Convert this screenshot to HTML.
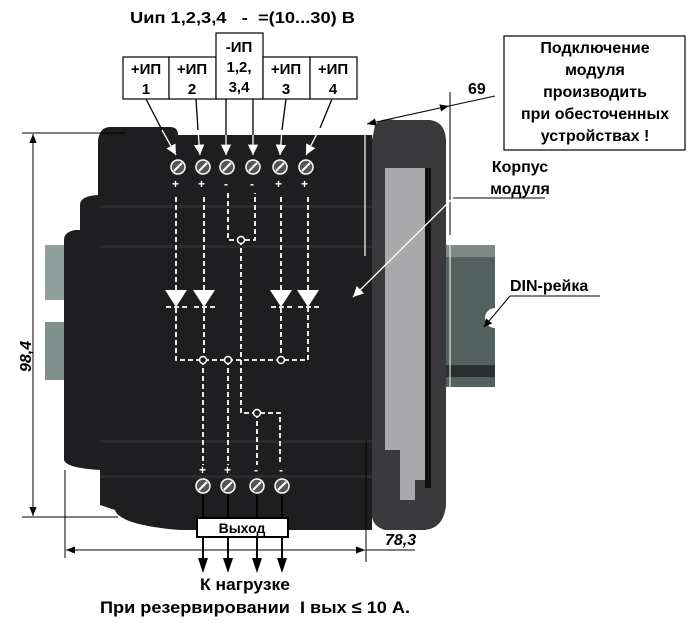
<!DOCTYPE html>
<html><head><meta charset="utf-8"><style>
body{margin:0;background:#fff;width:698px;height:642px;overflow:hidden}
svg{display:block}
text{font-family:"Liberation Sans","Noto Sans CJK SC",sans-serif;font-weight:bold;fill:#000}
</style></head><body>
<svg width="698" height="642" viewBox="0 0 698 642" xmlns="http://www.w3.org/2000/svg">
<defs>
<marker id="ab" viewBox="0 0 10 10" refX="10" refY="5" markerWidth="9" markerHeight="9" orient="auto-start-reverse"><path d="M0,1 L10,5 L0,9 z" fill="#000"/></marker>
<marker id="aw" viewBox="0 0 10 10" refX="10" refY="5" markerWidth="8" markerHeight="8" orient="auto"><path d="M0,0 L10,5 L0,10 z" fill="#fff"/></marker>
<marker id="abk" viewBox="0 0 10 10" refX="10" refY="5" markerWidth="8" markerHeight="8" orient="auto"><path d="M0,0 L10,5 L0,10 z" fill="#000"/></marker>
</defs>
<!-- DIN rail -->
<rect x="440" y="245" width="55" height="142" fill="#52605e"/>
<rect x="440" y="245" width="55" height="12" fill="#7d8a88"/>
<rect x="440" y="365" width="55" height="12" fill="#2a302f"/>
<circle cx="495" cy="318" r="10" fill="#fff"/>
<rect x="45" y="245" width="20" height="55" fill="#8fa09c"/>
<rect x="45" y="322" width="20" height="58" fill="#7f908c"/>
<!-- main body -->
<path d="M110,127 L170,127 Q178,127 178,135 L372,135 L372,530 L180,530 Q120,525 115,510 L100,505 L100,470 Q66,468 64,460 L64,240 Q64,232 75,230 L80,230 L80,205 Q80,196 98,195 L98,140 Q100,127 110,127 Z" fill="#1e1e21"/>
<rect x="100" y="205" width="272" height="3" fill="#2b2b2e"/>
<rect x="100" y="245" width="272" height="3" fill="#2b2b2e"/>
<rect x="100" y="440" width="272" height="3" fill="#2b2b2e"/>
<rect x="100" y="475" width="272" height="3" fill="#2b2b2e"/>
<!-- right cap -->
<path d="M375,125 Q380,118 395,120 L430,120 Q445,122 446,140 L446,505 Q444,528 425,530 L385,530 Q372,526 372,515 L372,140 Z" fill="#3a3a3d"/>
<path d="M385,168 L425,168 L425,480 L415,480 L415,500 L400,500 L400,450 L385,450 Z" fill="#a9a9ab"/>
<rect x="425" y="168" width="6" height="320" fill="#111"/>
<!-- dimension lines -->
<line x1="22" y1="133" x2="125" y2="133" stroke="#000"/>
<line x1="22" y1="517" x2="118" y2="517" stroke="#000"/>
<line x1="33" y1="134" x2="33" y2="516" stroke="#000" marker-start="url(#ab)" marker-end="url(#ab)"/>
<text x="0" y="0" font-size="16" font-style="italic" transform="translate(31,372) rotate(-90)">98,4</text>
<line x1="65" y1="470" x2="65" y2="558" stroke="#000"/>
<line x1="366" y1="440" x2="366" y2="562" stroke="#000"/>
<line x1="66" y1="550" x2="365" y2="550" stroke="#000" marker-start="url(#ab)" marker-end="url(#ab)"/>
<line x1="366" y1="550" x2="415" y2="550" stroke="#000"/>
<text x="385" y="545" font-size="16" font-style="italic">78,3</text>
<line x1="365" y1="114" x2="365" y2="256" stroke="#fff" stroke-width="1.2"/>
<line x1="450" y1="92" x2="450" y2="235" stroke="#000"/>
<line x1="450" y1="235" x2="450" y2="440" stroke="#fff"/>
<line x1="367" y1="124" x2="449" y2="106" stroke="#000" marker-start="url(#ab)" marker-end="url(#ab)"/>
<line x1="449" y1="106" x2="495" y2="96" stroke="#000"/>
<text x="468" y="94" font-size="16">69</text>
<!-- right box -->
<rect x="504" y="36" width="181" height="114" fill="#fff" stroke="#000" stroke-width="1.2"/>
<text font-size="16" text-anchor="middle"><tspan x="595" y="53">Подключение</tspan><tspan x="595" y="75">модуля</tspan><tspan x="595" y="97">производить</tspan><tspan x="595" y="119">при обесточенных</tspan><tspan x="595" y="141">устройствах !</tspan></text>
<text font-size="16" text-anchor="middle"><tspan x="520" y="172">Корпус</tspan><tspan x="520" y="194">модуля</tspan></text>
<line x1="453" y1="198" x2="545" y2="198" stroke="#000"/>
<line x1="453" y1="198" x2="353" y2="297" stroke="#fff" stroke-width="1.3" marker-end="url(#aw)"/>
<text x="510" y="291" font-size="16">DIN-рейка</text>
<line x1="510" y1="296" x2="600" y2="296" stroke="#000"/>
<line x1="510" y1="296" x2="484" y2="327" stroke="#000" marker-end="url(#abk)"/>
<!-- title & top boxes -->
<text x="130" y="23" font-size="16" textLength="225" lengthAdjust="spacingAndGlyphs">Uип 1,2,3,4 &#160; - &#160;=(10...30) В</text>
<g fill="#fff" stroke="#000" stroke-width="1.2">
<rect x="123" y="57" width="46" height="42"/><rect x="169" y="57" width="47" height="42"/>
<rect x="216" y="33" width="47" height="66"/><rect x="263" y="57" width="47" height="42"/><rect x="310" y="57" width="47" height="42"/>
</g>
<text font-size="15" text-anchor="middle"><tspan x="146" y="74">+ИП</tspan><tspan x="146" y="94">1</tspan><tspan x="192" y="74">+ИП</tspan><tspan x="192" y="94">2</tspan><tspan x="239" y="52">-ИП</tspan><tspan x="239" y="72">1,2,</tspan><tspan x="239" y="92">3,4</tspan><tspan x="286" y="74">+ИП</tspan><tspan x="286" y="94">3</tspan><tspan x="333" y="74">+ИП</tspan><tspan x="333" y="94">4</tspan></text>
<!-- leader arrows to terminals -->
<g stroke="#000" stroke-width="1.3">
<line x1="146" y1="99" x2="162" y2="130"/><line x1="196" y1="99" x2="198" y2="130"/>
<line x1="226" y1="99" x2="226" y2="135"/><line x1="253" y1="99" x2="253" y2="135"/>
<line x1="286" y1="99" x2="282" y2="130"/><line x1="332" y1="99" x2="320" y2="128"/>
</g>
<g stroke="#fff" stroke-width="1.3" marker-end="url(#aw)">
<line x1="162" y1="130" x2="176" y2="155"/><line x1="198" y1="130" x2="200" y2="155"/>
<line x1="226" y1="135" x2="226" y2="155"/><line x1="253" y1="135" x2="253" y2="155"/>
<line x1="282" y1="130" x2="280" y2="155"/><line x1="320" y1="128" x2="306" y2="155"/>
</g>
<!-- terminals -->
<g stroke="#fff" stroke-width="1.5" fill="#555">
<circle cx="178" cy="167" r="7"/><circle cx="203" cy="167" r="7"/><circle cx="227" cy="167" r="7"/><circle cx="253" cy="167" r="7"/><circle cx="280" cy="167" r="7"/><circle cx="306" cy="167" r="7"/>
<circle cx="203" cy="486" r="7"/><circle cx="228" cy="486" r="7"/><circle cx="257" cy="486" r="7"/><circle cx="282" cy="486" r="7"/>
</g>
<g stroke="#fff" stroke-width="2">
<line x1="174" y1="171" x2="182" y2="163"/><line x1="199" y1="171" x2="207" y2="163"/><line x1="223" y1="171" x2="231" y2="163"/><line x1="249" y1="171" x2="257" y2="163"/><line x1="276" y1="171" x2="284" y2="163"/><line x1="302" y1="171" x2="310" y2="163"/>
<line x1="199" y1="490" x2="207" y2="482"/><line x1="224" y1="490" x2="232" y2="482"/><line x1="253" y1="490" x2="261" y2="482"/><line x1="278" y1="490" x2="286" y2="482"/>
</g>
<g font-size="12"><text x="172" y="188" style="fill:#fff">+</text><text x="198" y="188" style="fill:#fff">+</text><text x="224" y="188" style="fill:#fff">-</text><text x="250" y="188" style="fill:#fff">-</text><text x="275" y="188" style="fill:#fff">+</text><text x="301" y="188" style="fill:#fff">+</text>
<text x="199" y="474" style="fill:#fff">+</text><text x="224" y="474" style="fill:#fff">+</text><text x="254" y="474" style="fill:#fff">-</text><text x="279" y="474" style="fill:#fff">-</text></g>
<!-- dashed circuit -->
<g stroke="#fff" stroke-width="1.8" stroke-dasharray="5,3" fill="none">
<path d="M176,197 V290 M204,197 V290 M281,197 V290 M308,197 V290"/>
<path d="M228,193 V240 H255 V193"/>
<path d="M241,240 V413 H280 V465 M257,413 V465"/>
<path d="M176,308 V360 H308 V308 M204,308 V360 M281,308 V360"/>
<path d="M203,360 V465 M228,360 V465"/>
<path d="M166,307 h22 M194,307 h22 M271,307 h22 M298,307 h22"/>
</g>
<g fill="#fff">
<path d="M165,290 h22 l-11,17 z"/><path d="M193,290 h22 l-11,17 z"/><path d="M270,290 h22 l-11,17 z"/><path d="M297,290 h22 l-11,17 z"/>
</g>
<g fill="#1c1c1e" stroke="#fff" stroke-width="1.5">
<circle cx="241" cy="240" r="3.5"/><circle cx="203" cy="360" r="3.5"/><circle cx="228" cy="360" r="3.5"/><circle cx="281" cy="360" r="3.5"/><circle cx="257" cy="413" r="3.5"/>
</g>
<!-- output -->
<g stroke="#000" stroke-width="2">
<line x1="203" y1="494" x2="203" y2="518"/><line x1="228" y1="494" x2="228" y2="518"/><line x1="257" y1="494" x2="257" y2="518"/><line x1="282" y1="494" x2="282" y2="518"/>
<line x1="203" y1="537" x2="203" y2="560"/><line x1="228" y1="537" x2="228" y2="560"/><line x1="257" y1="537" x2="257" y2="560"/><line x1="282" y1="537" x2="282" y2="560"/>
</g>
<g fill="#000"><path d="M198,558 h10 l-5,15 z"/><path d="M223,558 h10 l-5,15 z"/><path d="M252,558 h10 l-5,15 z"/><path d="M277,558 h10 l-5,15 z"/></g>
<rect x="197" y="518" width="91" height="19" fill="#fff" stroke="#000" stroke-width="2"/>
<text x="242" y="533" font-size="14" text-anchor="middle">Выход</text>
<text x="200" y="590" font-size="17" textLength="90" lengthAdjust="spacingAndGlyphs">К нагрузке</text>
<text x="100" y="613" font-size="17" textLength="310" lengthAdjust="spacingAndGlyphs">При резервировании &#160;I вых ≤ 10 А.</text>
</svg>
</body></html>
